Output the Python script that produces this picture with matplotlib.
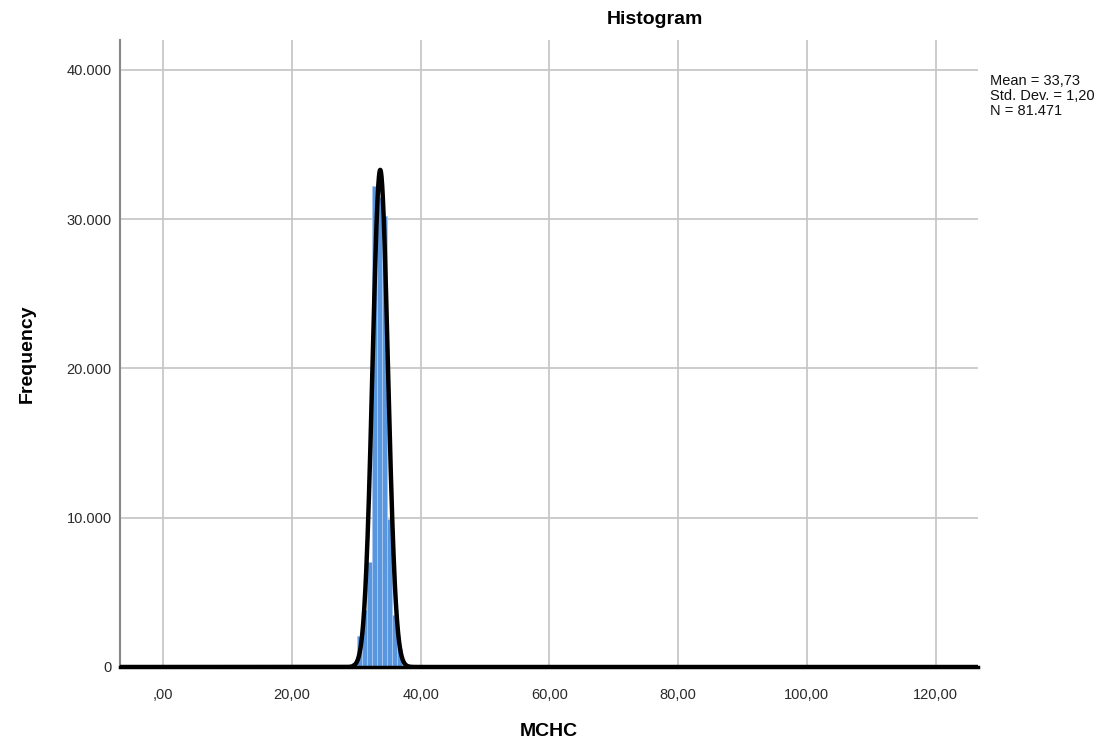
import numpy as np
import matplotlib
matplotlib.use("Agg")
import matplotlib.pyplot as plt

plt.rcParams["font.family"] = ["Liberation Sans", "DejaVu Sans"]

# histogram bars
bin_left = [29.38, 30.16, 30.94, 31.72, 32.50, 33.28, 34.06, 34.84, 35.62, 36.40]
bin_width = 0.78
bin_counts = [300, 2100, 3800, 7050, 32200, 31500, 30200, 9900, 3500, 1200]

# summary stats shown in the legend
mean_val = 33.73
sd_val = 1.20
n_val = 81471
curve_peak = 33300  # height of the fitted normal curve at the mean

x_ticks = [0, 20, 40, 60, 80, 100, 120]
x_labels = [",00", "20,00", "40,00", "60,00", "80,00", "100,00", "120,00"]
y_ticks = [0, 10000, 20000, 30000, 40000]
y_labels = ["0", "10.000", "20.000", "30.000", "40.000"]

fig = plt.figure(figsize=(11.15, 7.47), dpi=100)
ax = fig.add_axes([120 / 1115, 80 / 747, (978 - 120) / 1115, (667 - 40) / 747])

ax.bar(bin_left, bin_counts, width=bin_width, align="edge",
       color="#5896E0", edgecolor="#A8C8F2", linewidth=0.6, zorder=2)

xs = np.linspace(-6.7, 126.6, 4000)
ys = curve_peak * np.exp(-0.5 * ((xs - mean_val) / sd_val) ** 2)
ax.plot(xs, ys, color="black", lw=3.2, zorder=3, solid_capstyle="butt")

ax.set_xlim(-6.7, 126.6)
ax.set_ylim(0, 42000)
ax.set_xticks(x_ticks)
ax.set_xticklabels(x_labels)
ax.set_yticks(y_ticks)
ax.set_yticklabels(y_labels)
ax.tick_params(axis="y", length=0, labelsize=10.5, colors="#2a2a2a", pad=6)
ax.tick_params(axis="x", length=0, labelsize=10.5, colors="#2a2a2a", pad=15)
ax.grid(True, color="#C4C4C4", lw=1.2, zorder=0)
ax.set_axisbelow(True)

for s in ["top", "right"]:
    ax.spines[s].set_visible(False)
ax.spines["left"].set_color("#888888")
ax.spines["left"].set_linewidth(1.5)
ax.spines["bottom"].set_color("black")
ax.spines["bottom"].set_linewidth(2.5)

ax.set_xlabel("MCHC", fontsize=14, fontweight="bold", labelpad=15)
ax.set_ylabel("Frequency", fontsize=14, fontweight="bold", labelpad=22)

fig.text(655 / 1115, 1 - 19 / 747, "Histogram", fontsize=14, fontweight="bold",
         ha="center", va="center")

stats = "Mean = {:.2f}\nStd. Dev. = {:.2f}\nN = {:,}".format(mean_val, sd_val, n_val)
stats = stats.replace(".", "#").replace(",", ".").replace("#", ",")
stats = stats.replace("Std, Dev, ", "Std. Dev. ")
fig.text(990 / 1115, 1 - 74 / 747, stats, fontsize=10.5, ha="left", va="top",
         linespacing=1.1, color="#111111")

fig.savefig("out.png", dpi=100)
